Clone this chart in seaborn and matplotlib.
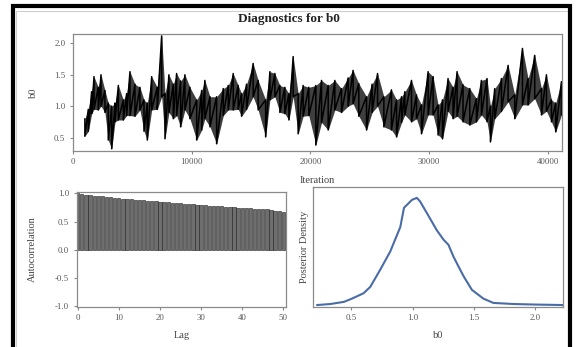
import numpy as np
import pandas as pd
import matplotlib
matplotlib.use("Agg")
import matplotlib.pyplot as plt
from matplotlib.patches import Rectangle
import seaborn as sns

# ---------------- data ----------------
trace_iter = [1000, 1290, 1570, 1770, 2130, 2360, 2690, 2970, 3260, 3540, 3820, 4240, 4520,
              4800, 5220, 5640, 5980, 6260, 6630, 7100, 7470, 7750, 8080, 8450, 8730, 9070,
              9430, 9850, 10420, 10840, 11110, 11540, 12100, 12660, 13080, 13500, 13920,
              14200, 14620, 15180, 15600, 16230, 16590, 17010, 17430, 17850, 18190, 18550,
              18970, 19390, 19870, 20460, 20940, 21500, 22060, 22620, 23180, 23600, 24080,
              24730, 25200, 25660, 26190, 26830, 27260, 27680,
              27960, 28520, 28940, 29360, 29920, 30340, 30760, 31130, 31600, 32020, 32360,
              32860, 33430, 33990, 34410, 34880, 35170, 35530, 36100, 36660, 37220, 37870,
              38340, 38900, 39470, 39890, 40310, 40670, 41150]
trace_hi = [0.80, 0.95, 1.23, 1.47, 1.30, 1.50, 1.25, 1.05, 1.00, 1.05, 1.33, 1.10, 1.20,
            1.55, 1.35, 1.30, 1.10, 1.05, 1.47, 1.30, 2.12, 1.20, 1.50, 1.35, 1.52, 1.40,
            1.50, 1.30, 1.10, 1.25, 1.41, 1.15, 1.15, 1.28, 1.33, 1.52, 1.33,
            1.20, 1.35, 1.68, 1.41, 1.10, 1.55, 1.52, 1.33, 1.30, 1.20, 1.79,
            1.20, 1.33, 1.30, 1.33, 1.41, 1.33, 1.41, 1.28, 1.45, 1.57, 1.36,
            1.15, 1.35, 1.52, 1.15, 1.26, 1.10, 1.15,
            1.23, 1.41, 1.18, 1.02, 1.55, 1.47, 1.02, 1.10, 1.44, 1.30, 1.55,
            1.34, 1.28, 1.12, 1.41, 1.44, 1.00, 1.28, 1.44, 1.65, 1.18, 1.92,
            1.44, 1.81, 1.28, 1.50, 1.10, 1.05, 1.39]
trace_lo = [0.52, 0.60, 0.88, 0.95, 0.94, 1.00, 0.90, 0.46, 0.32, 0.75, 0.78, 0.78, 0.85,
            0.85, 0.84, 0.94, 0.60, 0.46, 0.94, 0.95, 1.15, 0.48, 0.90, 0.80, 0.85, 0.67,
            0.94, 0.80, 0.46, 0.62, 0.80, 0.67, 0.40, 0.85, 0.94, 0.94, 0.95,
            0.84, 0.95, 1.15, 0.94, 0.51, 1.10, 1.15, 0.90, 0.88, 0.78, 1.15,
            0.56, 0.84, 0.85, 0.38, 0.74, 0.62, 0.94, 0.90, 1.00, 1.04, 0.84,
            0.62, 0.90, 1.00, 0.67, 0.62, 0.51, 0.74,
            0.86, 0.75, 0.80, 0.56, 0.86, 0.86, 0.54, 0.48, 0.92, 0.80, 0.84,
            0.75, 0.70, 0.75, 0.86, 0.75, 0.43, 0.80, 0.92, 1.07, 0.80, 1.02,
            1.02, 1.12, 0.86, 0.92, 0.75, 0.59, 0.86]

acf_lag = list(range(51))
acf_val = [1.000, 0.985, 0.975, 0.967, 0.960, 0.952, 0.945, 0.938, 0.930, 0.922,
           0.914, 0.907, 0.901, 0.895, 0.889, 0.883, 0.877, 0.871, 0.865, 0.858,
           0.852, 0.846, 0.840, 0.834, 0.828, 0.822, 0.816, 0.810, 0.804, 0.798,
           0.792, 0.787, 0.782, 0.777, 0.772, 0.767, 0.762, 0.757, 0.752, 0.747,
           0.742, 0.738, 0.734, 0.730, 0.726, 0.722, 0.714, 0.705, 0.695, 0.684,
           0.672]

dens_x = [0.22, 0.33, 0.44, 0.505, 0.60, 0.655, 0.736, 0.818, 0.90, 0.93, 0.995, 1.035,
          1.06, 1.117, 1.198, 1.252, 1.293, 1.334, 1.415, 1.484, 1.578, 1.66, 1.82,
          1.986, 2.23]
dens_y = [0.00, 0.016, 0.048, 0.097, 0.178, 0.275, 0.534, 0.81, 1.18, 1.47, 1.59, 1.62,
          1.57, 1.39, 1.13, 0.99, 0.91, 0.73, 0.44, 0.23, 0.097, 0.032, 0.016, 0.008,
          0.00]

title = "Diagnostics for b0"
top_xticks = [0, 10000, 20000, 30000, 40000]
top_yticks = [0.5, 1.0, 1.5, 2.0]
acf_xticks = [0, 10, 20, 30, 40, 50]
acf_yticks = [-1.0, -0.5, 0.0, 0.5, 1.0]
dens_xticks = [0.5, 1.0, 1.5, 2.0]

# ---------------- style ----------------
sns.set_theme(style="ticks")
plt.rcParams["font.family"] = ["Liberation Serif", "DejaVu Serif"]
plt.rcParams.update({
    "axes.edgecolor": "#8a8a8a",
    "axes.linewidth": 0.9,
    "xtick.color": "#8a8a8a",
    "ytick.color": "#8a8a8a",
    "xtick.labelcolor": "#555555",
    "ytick.labelcolor": "#555555",
    "xtick.major.size": 2.5,
    "ytick.major.size": 2.5,
    "xtick.major.width": 0.8,
    "ytick.major.width": 0.8,
    "xtick.major.pad": 3,
    "ytick.major.pad": 3,
    "xtick.labelsize": 6.3,
    "ytick.labelsize": 6.3,
    "axes.labelsize": 7.5,
    "axes.labelcolor": "#444444",
})

W, H = 577, 347
fig = plt.figure(figsize=(W / 100, H / 100), dpi=100)
fig.patch.set_facecolor("white")


def ax_rect(l, t, r, b):
    return [l / W, 1 - b / H, (r - l) / W, (b - t) / H]


ax_tr = fig.add_axes(ax_rect(73, 34, 562, 150.7))
ax_acf = fig.add_axes(ax_rect(76.7, 191.7, 286, 306.7))
ax_den = fig.add_axes(ax_rect(313.3, 187.3, 563.3, 306.7))

# ---------------- trace ----------------
vx, vy = [], []
for it, hi, lo in zip(trace_iter, trace_hi, trace_lo):
    vx += [it, it]
    vy += [hi, lo]
tr_df = pd.DataFrame({"Iteration": vx, "b0": vy})
ax_tr.fill_between(trace_iter, trace_lo, trace_hi, color="#2a2a2a", lw=0, alpha=0.9)
sns.lineplot(data=tr_df, x="Iteration", y="b0", sort=False, estimator=None,
             color="black", lw=1.1, ax=ax_tr)
ax_tr.set_xlim(0, 41200)
ax_tr.set_ylim(0.29, 2.15)
ax_tr.set_xticks(top_xticks)
ax_tr.set_xticklabels([str(t) for t in top_xticks])
ax_tr.set_yticks(top_yticks)
ax_tr.set_yticklabels([f"{t:.1f}" for t in top_yticks])
ax_tr.set_xlabel("Iteration", labelpad=7)
ax_tr.set_ylabel("b0", labelpad=12)

# ---------------- ACF ----------------
acf_df = pd.DataFrame({"Lag": acf_lag, "Autocorrelation": acf_val})
sns.barplot(data=acf_df, x="Lag", y="Autocorrelation", native_scale=True,
            color="#6e6e6e", width=0.8, edgecolor="#1e1e1e", linewidth=0.4,
            saturation=1, ax=ax_acf)
ax_acf.set_xlim(-0.25, 50.65)
ax_acf.set_ylim(-1.015, 1.03)
ax_acf.set_xticks(acf_xticks)
ax_acf.set_xticklabels([str(t) for t in acf_xticks])
ax_acf.set_yticks(acf_yticks)
ax_acf.set_yticklabels([f"{t:.1f}" for t in acf_yticks])
ax_acf.set_xlabel("Lag", labelpad=6)
ax_acf.set_ylabel("Autocorrelation", labelpad=13)

# ---------------- density ----------------
den_df = pd.DataFrame({"b0": dens_x, "Posterior Density": dens_y})
sns.lineplot(data=den_df, x="b0", y="Posterior Density", color="#4a6ca6",
             lw=1.5, ax=ax_den)
ax_den.set_xlim(0.19, 2.23)
ax_den.set_ylim(-0.025, 1.78)
ax_den.set_xticks(dens_xticks)
ax_den.set_xticklabels([f"{t:.1f}" for t in dens_xticks])
ax_den.set_yticks([])
ax_den.set_xlabel("b0", labelpad=6)
ax_den.set_ylabel("Posterior Density", labelpad=3)

for ax in (ax_tr, ax_acf, ax_den):
    for s in ax.spines.values():
        s.set_visible(True)

fig.text(289 / W, 1 - 19 / H, title, ha="center", va="center",
         fontsize=9.5, fontweight="bold", color="#222222")

# outer frame
fig.patches.append(Rectangle((15.5 / W, -0.05), 552 / W, 1 - 10.5 / H + 0.05,
                             transform=fig.transFigure, fill=False,
                             edgecolor="#d0d0d0", lw=0.8))
fig.patches.append(Rectangle((13 / W, -0.05), 557 / W, 1 - 6 / H + 0.05,
                             transform=fig.transFigure, fill=False,
                             edgecolor="black", lw=3.0))

fig.savefig("out.png", dpi=100, facecolor="white")
